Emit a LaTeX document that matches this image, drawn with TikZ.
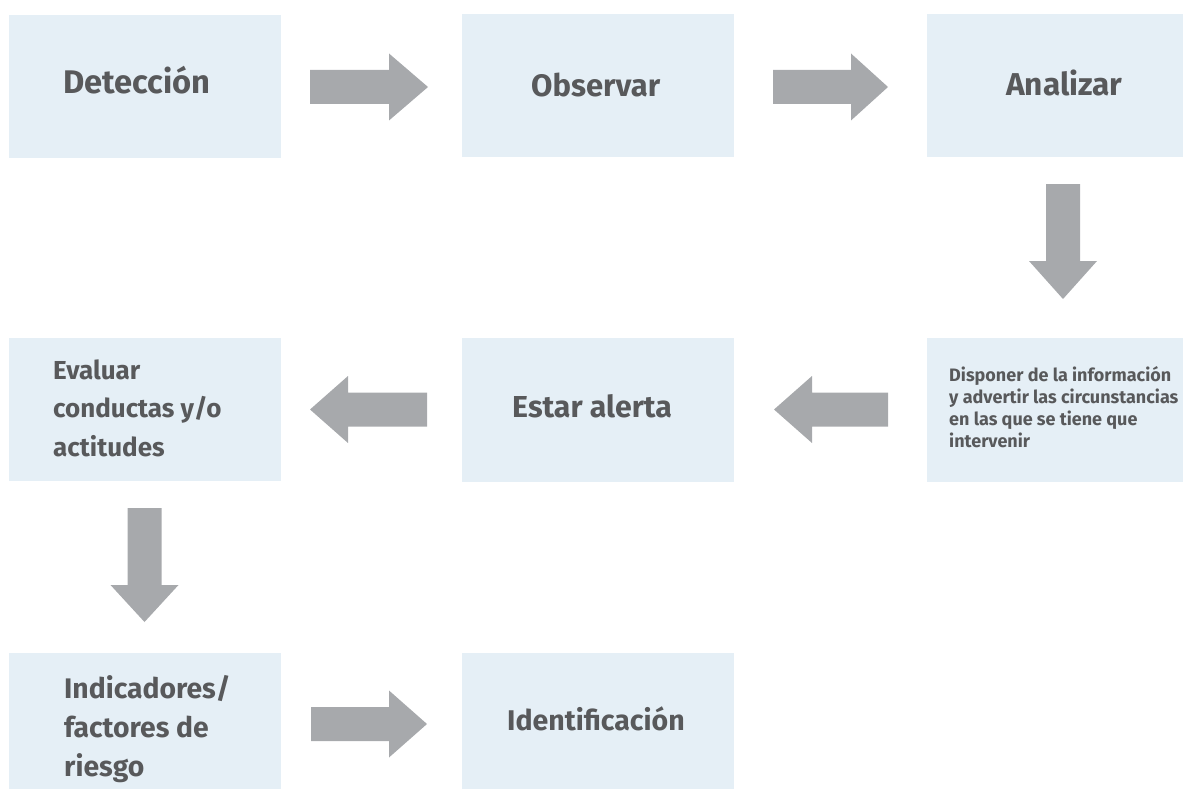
\documentclass[tikz,border=0pt]{standalone}
\usepackage{fontspec}
\setmainfont{Fira Sans}
\definecolor{boxfill}{HTML}{E5EFF6}
\definecolor{arrowgray}{HTML}{A7A9AC}
\definecolor{txt}{HTML}{58595B}
\tikzset{
  box/.style={fill=boxfill, draw=none, inner sep=0pt, outer sep=0pt, minimum width=272pt, minimum height=143pt},
  bigarrow/.style={fill=arrowgray, draw=none},
  ttl/.style={anchor=base west, inner sep=0pt, text=txt, font=\bfseries\fontsize{31}{31}\selectfont},
  mid/.style={anchor=base west, inner sep=0pt, text=txt, font=\bfseries\fontsize{26}{26}\selectfont},
  sml/.style={anchor=base west, inner sep=0pt, text=txt, font=\bfseries\fontsize{18}{18}\selectfont},
}
% horizontal block arrow: tail x, head-base x, tip x, centre y
\newcommand{\harr}[4]{\fill[bigarrow] (#1,#4-17) -- (#2,#4-17) -- (#2,#4-33.5) -- (#3,#4) -- (#2,#4+33.5) -- (#2,#4+17) -- (#1,#4+17) -- cycle;}
% vertical block arrow: tail y, head-base y, tip y, centre x
\newcommand{\varr}[4]{\fill[bigarrow] (#4-17,#1) -- (#4-17,#2) -- (#4-34,#2) -- (#4,#3) -- (#4+34,#2) -- (#4+17,#2) -- (#4+17,#1) -- cycle;}
\begin{document}
\begin{tikzpicture}[x=1pt, y=-1pt]
\useasboundingbox (0,0) rectangle (1183,789);
% boxes
\node[box] (det) at (145,86.5) {};
\node[box] (obs) at (598,85.5) {};
\node[box, minimum width=256pt] (ana) at (1055,85.5) {};
\node[box, minimum width=256pt, minimum height=144pt] (disp) at (1055,410) {};
\node[box, minimum height=144pt] (est) at (598,410) {};
\node[box] (eva) at (145,409.5) {};
\node[box, minimum height=136pt] (ind) at (145,721) {};
\node[box, minimum height=136pt] (ide) at (598,721) {};
% texts
\node[ttl, font=\bfseries\fontsize{32.7}{32.7}\selectfont] (det-t) at (63,94) {Detección};
\node[ttl] (obs-t) at (531,97) {Observar};
\node[ttl, font=\bfseries\fontsize{31.6}{31.6}\selectfont] (ana-t) at (1006,96) {Analizar};
\node[ttl, font=\bfseries\fontsize{30.3}{30.3}\selectfont] (est-t) at (512,417) {Estar alerta};
\node[ttl, font=\bfseries\fontsize{28.5}{28.5}\selectfont] (ide-t) at (507,730) {Identificación};
\node[mid] (eva-1) at (53,379) {Evaluar};
\node[mid] (eva-2) at (53,417) {conductas y/o};
\node[mid] (eva-3) at (53,456) {actitudes};
\node[mid, font=\bfseries\fontsize{28.3}{28.3}\selectfont] (ind-1) at (64,698) {Indicadores/};
\node[mid, font=\bfseries\fontsize{28.3}{28.3}\selectfont] (ind-2) at (64,737) {factores de};
\node[mid, font=\bfseries\fontsize{28.3}{28.3}\selectfont] (ind-3) at (64,776) {riesgo};
\node[sml] (disp-1) at (949,381) {Disponer de la información};
\node[sml] (disp-2) at (949,403) {y advertir las circunstancias};
\node[sml] (disp-3) at (949,425) {en las que se tiene que};
\node[sml] (disp-4) at (949,447) {intervenir};
% arrows
\harr{310}{389}{428}{87}
\harr{773}{851}{888}{87}
\varr{184}{261}{299}{1063}
\harr{888}{812}{774}{409.5}
\harr{427}{348}{310}{409.5}
\varr{508}{585}{622}{144.5}
\harr{311}{389}{427}{724}
\end{tikzpicture}
\end{document}
